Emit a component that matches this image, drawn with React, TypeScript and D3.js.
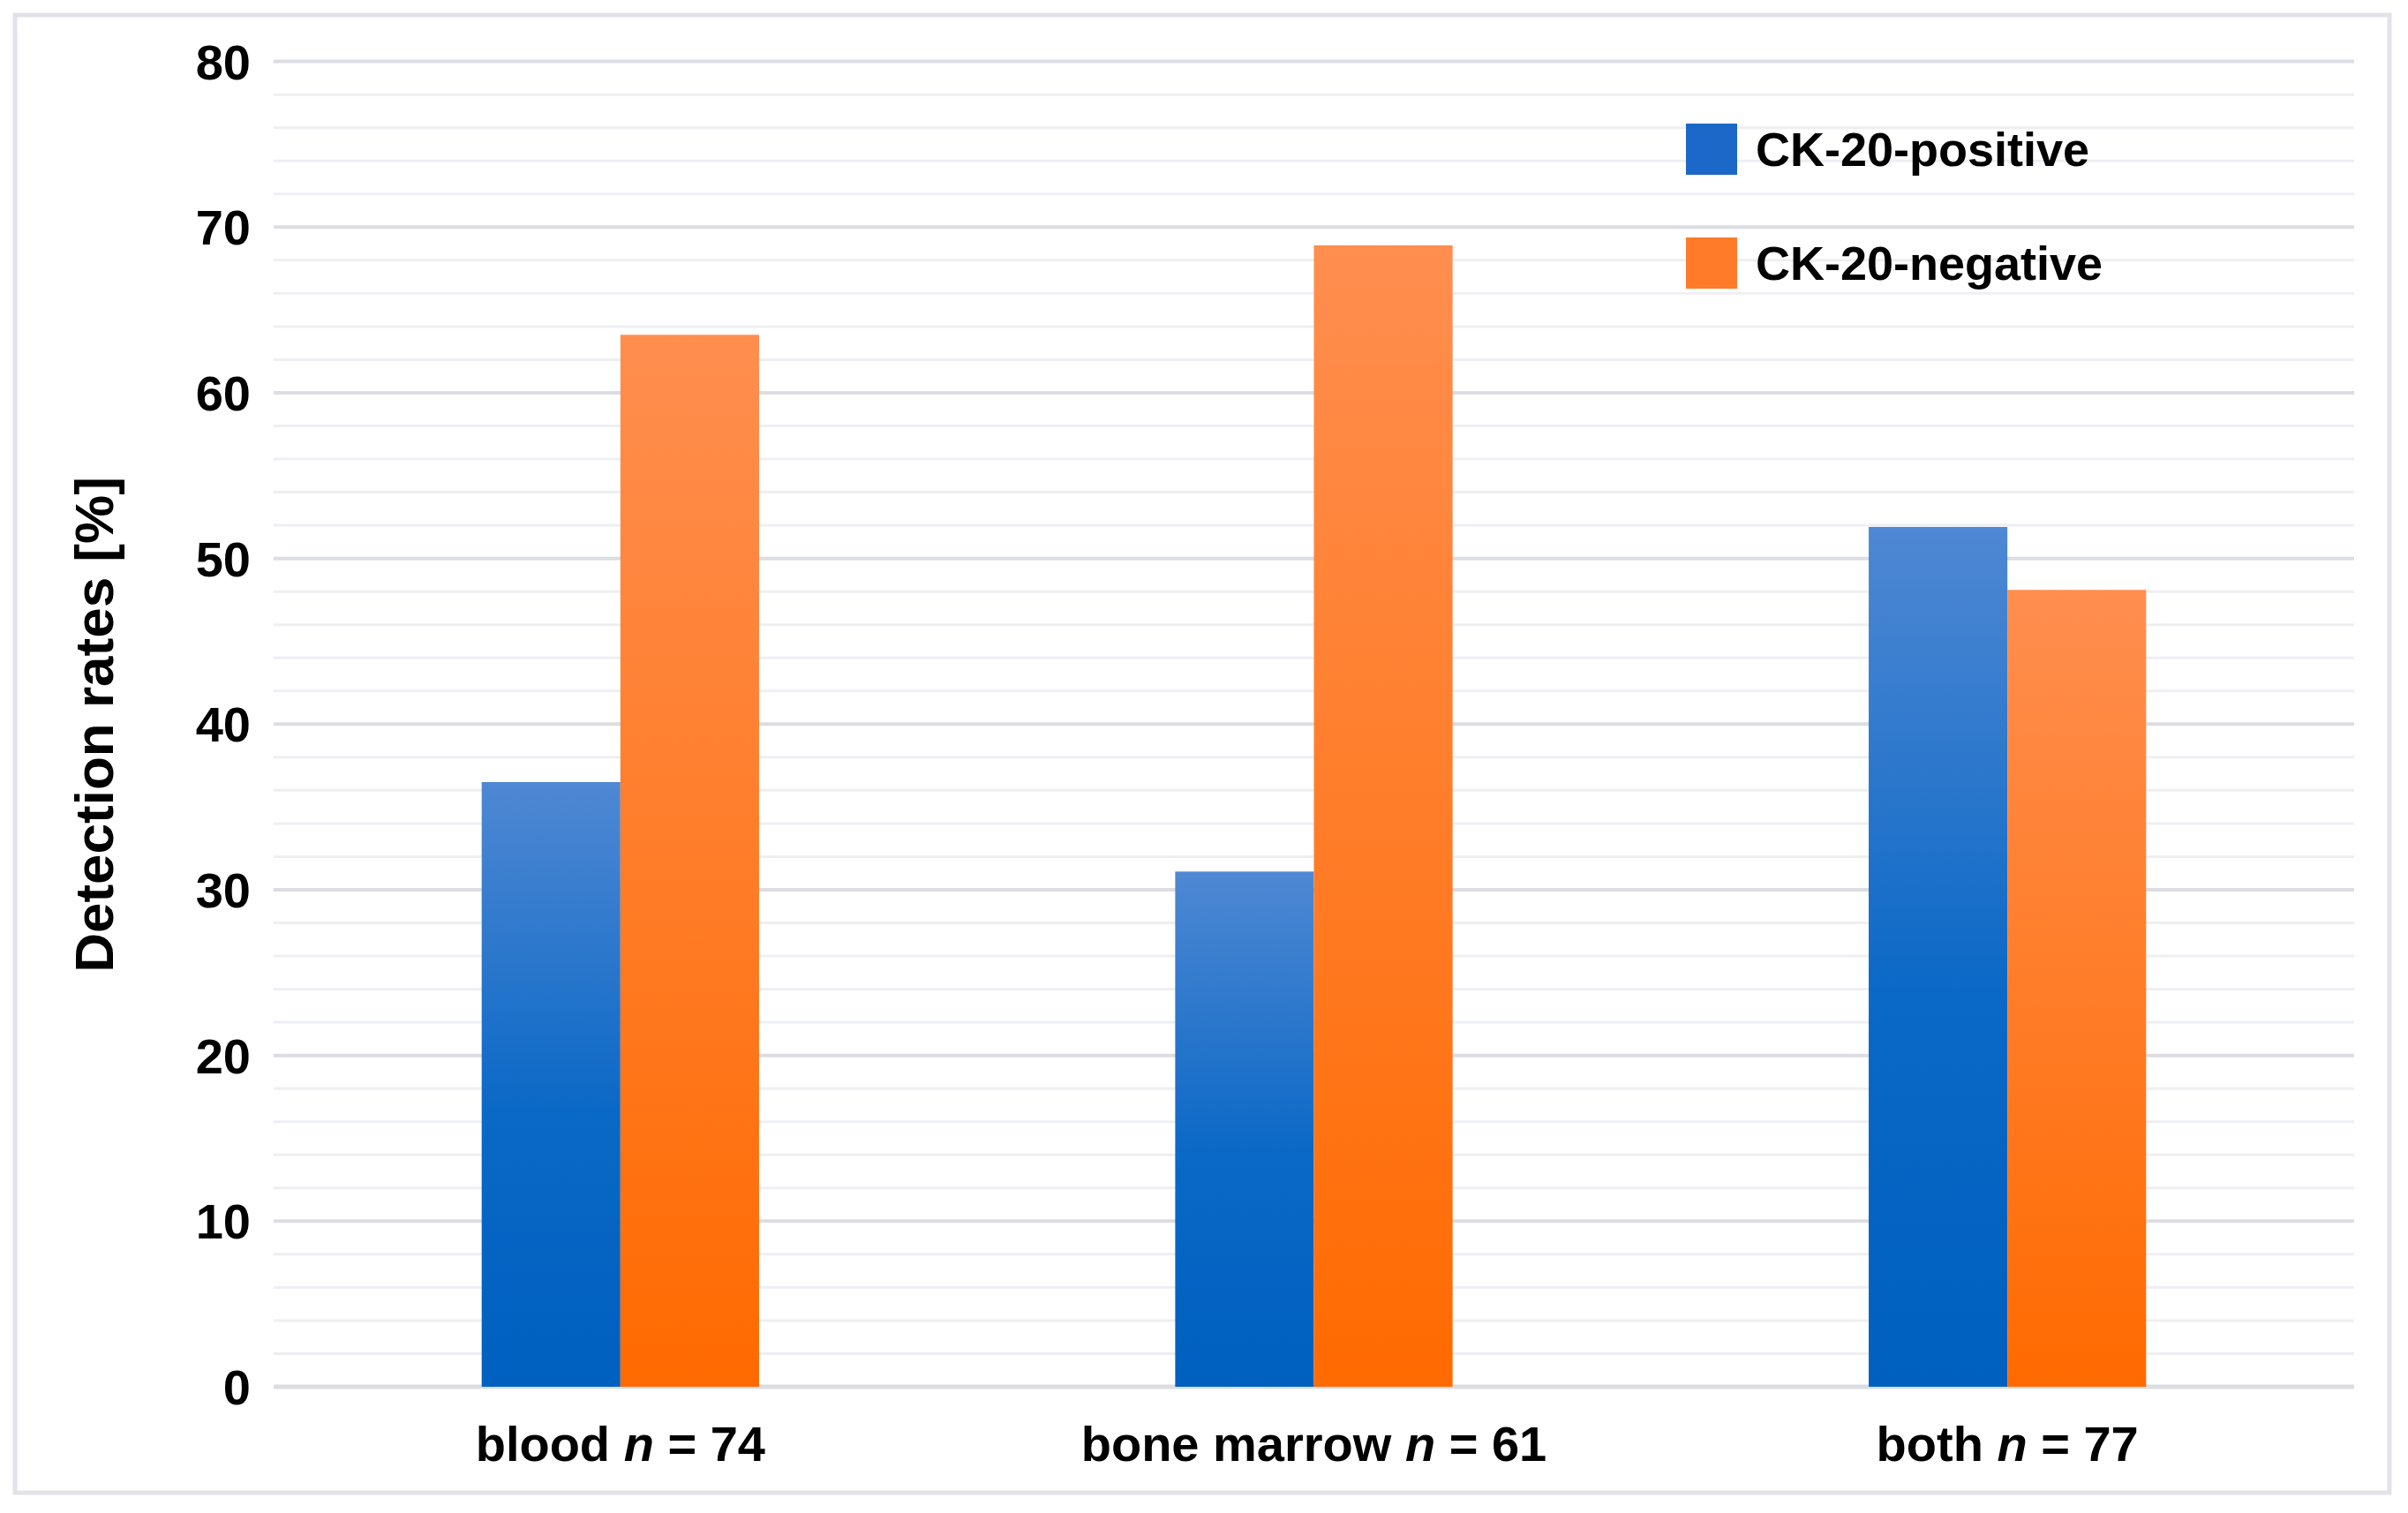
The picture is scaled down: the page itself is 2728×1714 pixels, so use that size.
import React from "react";
import * as d3 from "d3";

const categories = ["blood", "bone marrow", "both"];
const sampleSizes = [74, 61, 77];
const seriesNames = ["CK-20-positive", "CK-20-negative"];
const positiveValues = [36.5, 31.1, 51.9];
const negativeValues = [63.5, 68.9, 48.1];
const majorTicks = [0, 10, 20, 30, 40, 50, 60, 70, 80];
const minorTicks = d3.range(0, 81, 2);

const W = 2728;
const H = 1714;
const M = { left: 310, right: 2667, top: 69.6, bottom: 1571 };
const FONT = "'Liberation Sans', Arial, Helvetica, sans-serif";

export default function App() {
  const x0 = d3.scaleBand<string>().domain(categories).range([M.left, M.right]).paddingInner(0).paddingOuter(0);
  const groupW = x0.bandwidth() * 0.4;
  const x1 = d3.scaleBand<string>().domain(seriesNames).range([0, groupW]).padding(0);
  const y = d3.scaleLinear().domain([0, 80]).range([M.bottom, M.top]);
  const series = [positiveValues, negativeValues];
  const grads = ["gradBlue", "gradOrange"];

  return (
    <svg width={W} height={H} style={{ position: "absolute", left: 0, top: 0, background: "#fff" }}>
      <defs>
        <linearGradient id="gradBlue" x1="0" y1="0" x2="0" y2="1">
          <stop offset="0" stopColor="#4f88d3" />
          <stop offset="0.55" stopColor="#0a68c6" />
          <stop offset="1" stopColor="#0060bf" />
        </linearGradient>
        <linearGradient id="gradOrange" x1="0" y1="0" x2="0" y2="1">
          <stop offset="0" stopColor="#ff8e4f" />
          <stop offset="0.55" stopColor="#ff7b25" />
          <stop offset="1" stopColor="#ff6a00" />
        </linearGradient>
      </defs>
      <rect x={17} y={17} width={2690} height={1674} fill="#fff" stroke="#e2e3e8" strokeWidth={5} />
      {minorTicks.filter((t) => t % 10 !== 0).map((t) => (
        <line key={"mi" + t} x1={M.left} x2={M.right} y1={y(t)} y2={y(t)} stroke="#eeeff3" strokeWidth={3} />
      ))}
      {majorTicks.map((t) => (
        <line key={"ma" + t} x1={M.left} x2={M.right} y1={y(t)} y2={y(t)} stroke="#dcdde3" strokeWidth={t === 0 ? 5 : 4} />
      ))}
      {majorTicks.map((t) => (
        <text key={"yl" + t} x={284} y={y(t)} dy="0.36em" textAnchor="end" fontFamily={FONT} fontWeight="bold" fontSize={56} fill="#000">
          {t}
        </text>
      ))}
      <text transform={`translate(106,821) rotate(-90)`} textAnchor="middle" dy="0.36em" fontFamily={FONT} fontWeight="bold" fontSize={62} fill="#000">
        Detection rates [%]
      </text>
      {categories.map((c, i) => {
        const gx = (x0(c) as number) + (x0.bandwidth() - groupW) / 2;
        return (
          <g key={c}>
            {series.map((vals, s) => (
              <rect
                key={s}
                x={gx + (x1(seriesNames[s]) as number)}
                y={y(vals[i])}
                width={x1.bandwidth()}
                height={y(0) - y(vals[i])}
                fill={`url(#${grads[s]})`}
              />
            ))}
            <text x={(x0(c) as number) + x0.bandwidth() / 2} y={1655} textAnchor="middle" fontFamily={FONT} fontWeight="bold" fontSize={56} fill="#000">
              {c + " "}
              <tspan fontStyle="italic">n</tspan>
              {" = " + sampleSizes[i]}
            </text>
          </g>
        );
      })}
      {seriesNames.map((name, s) => (
        <g key={name}>
          <rect x={1910} y={140 + s * 129} width={58} height={58} fill={s === 0 ? "#1c68c8" : "#ff7b29"} />
          <text x={1989} y={188 + s * 129} fontFamily={FONT} fontWeight="bold" fontSize={54} fill="#000">
            {name}
          </text>
        </g>
      ))}
    </svg>
  );
}
